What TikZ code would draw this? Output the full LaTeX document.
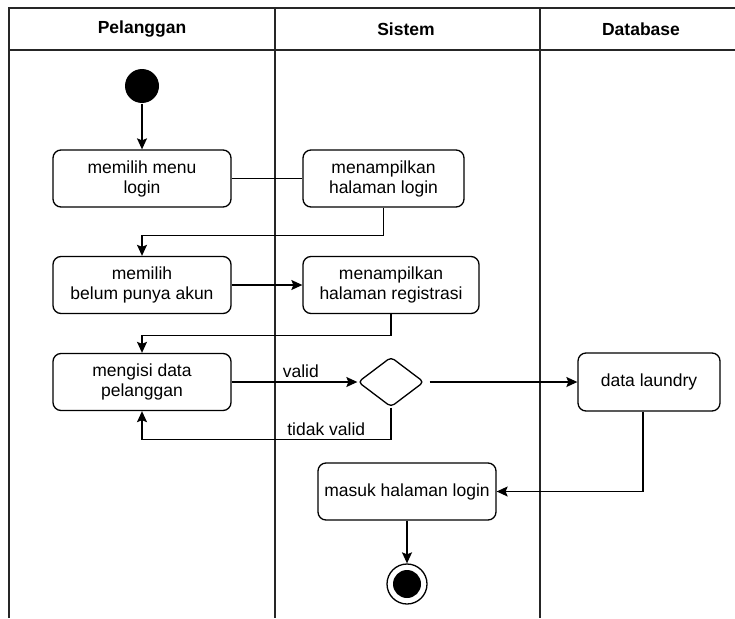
\documentclass[tikz,border=0pt]{standalone}
\usepackage{fontspec}
\setmainfont{Liberation Sans}
\usetikzlibrary{arrows.meta,shapes.geometric}
\begin{document}
\begin{tikzpicture}[x=1pt,y=-1pt,
  font=\fontsize{17.5}{20}\selectfont,
  line width=1.3pt,
  act/.style={draw, rounded corners=8pt, minimum height=57pt, align=center, inner sep=0pt},
  arr/.style={-{Stealth[length=11pt,width=10pt,inset=2pt]}},
  lane/.style={line width=1.4pt, draw=black!85},
  hdr/.style={font=\fontsize{17.5}{20}\selectfont\bfseries}]
\useasboundingbox (0,0) rectangle (735,618);
% swimlanes
\draw[lane] (9,618) -- (9,8) -- (735,8);
\draw[lane] (9,50) -- (735,50);
\draw[lane] (275,8) -- (275,618);
\draw[lane] (540,8) -- (540,618);
\node[hdr] (h1) at (142,29) {Pelanggan};
\node[hdr] (h2) at (406,29) {Sistem};
\node[hdr] (h3) at (641,29) {Database};
% nodes
\node[circle, fill, minimum size=34pt, inner sep=0pt] (start) at (142,86) {};
\node[act, minimum width=178pt] (b1) at (142,178.5) {memilih menu\\login};
\node[act, minimum width=161pt] (b2) at (383.5,178.5) {menampilkan\\halaman login};
\node[act, minimum width=178pt] (b3) at (142,285) {memilih\\belum punya akun};
\node[act, minimum width=176pt] (b4) at (391,285) {menampilkan\\halaman registrasi};
\node[act, minimum width=178pt] (b5) at (142,382) {mengisi data\\pelanggan};
\node[diamond, draw, minimum width=66pt, minimum height=50pt, inner sep=0pt, rounded corners=4pt] (dia) at (391,382) {};
\node[act, minimum width=142pt, minimum height=58pt] (dl) at (649,382) {data laundry};
\node[act, minimum width=178pt] (masuk) at (407,491.5) {masuk halaman login};
\node[circle, draw, minimum size=40pt, inner sep=0pt] (end) at (407,584) {};
\node[circle, fill, minimum size=28pt, inner sep=0pt] (endin) at (end) {};
% connectors
\draw[arr] (start) -- (b1);
\draw (b1.east) -- (b2.west);
\draw[arr] (b2.south) -- ++(0,28) -| (b3.north);
\draw[arr] (b3.east) -- (b4.west);
\draw[arr] (b4.south) -- ++(0,21) -| (b5.north);
\draw[arr] (b5.east) -- node[pos=0.55, above] (lv) {valid} (dia.west);
\draw[arr] (dia.south) -- ++(0,32) -| node[pos=0.13, above] (ltv) {tidak valid} (b5.south);
\draw[arr] ([xshift=5pt]dia.east) -- (dl.west);
\draw[arr] ([xshift=-6pt]dl.south) |- (masuk.east);
\draw[arr] (masuk.south) -- (end);
\end{tikzpicture}
\end{document}
